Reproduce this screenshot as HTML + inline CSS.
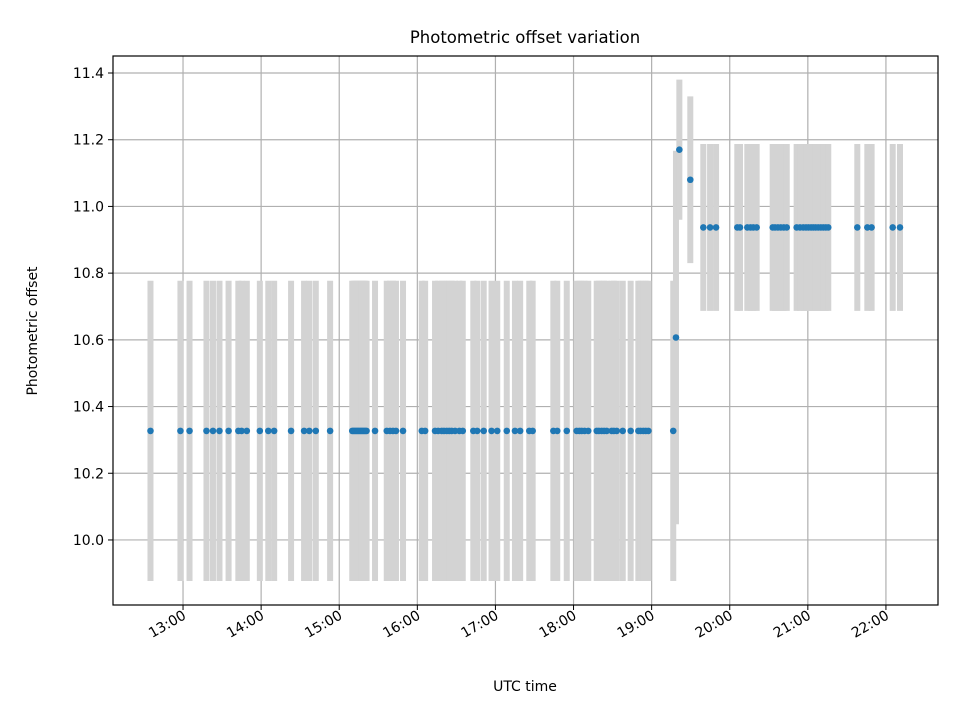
<!DOCTYPE html>
<html><head><meta charset="utf-8"><style>
html,body{margin:0;padding:0;background:#fff;}
svg text{font-family:"DejaVu Sans","Liberation Sans",sans-serif;fill:#000;}
</style></head><body>
<svg id="chart" width="960" height="720" xmlns="http://www.w3.org/2000/svg">
<rect width="960" height="720" fill="#fff"/>
<text x="525" y="43" font-size="16.5" text-anchor="middle">Photometric offset variation</text>
<text x="525" y="691" font-size="14" text-anchor="middle">UTC time</text>
<text x="37" y="331" font-size="14" text-anchor="middle" transform="rotate(-90 37 331)">Photometric offset</text>
<g id="grid"></g><g id="bars"></g><g id="pts"></g><g id="axes"></g>
</svg>
<script>
// times in minutes since 12:00 UTC
const lowTimes=[35,58,65,78,83,88,95,102.5,105,109,119,125.5,130,143,153,157,162,173,190,191,192,193,194,195,196,197,198,199,200,201,207.5,216.5,219,221.3,223.6,229,243.4,246,253.6,256,258.7,260.5,262.6,264.5,266.4,269,272.3,274.9,283,286,291,297,301.4,308.7,315,319,326,328.6,344.5,347.5,354.8,362.4,364.5,366.3,368.5,371.3,377.8,379.5,381.6,383.5,385.5,389.3,391,393.2,397.8,403.9,409.8,411.5,413.6,415.5,417.5,436.6];
const lowValue=10.327;
const lowError=0.45;
const specialTimes=[438.7,441.3,449.7];
const specialValues=[10.607,11.17,11.08];
const specialErrors=[0.56,0.21,0.25];
const highTimes=[459.7,464.9,469.5,485.8,487.9,493.5,496,498.1,500.7,513,514.8,517,519.2,521.5,523.8,531.4,534,536.5,538.6,540.5,542.5,544.2,546,548,550,551.9,553.8,555.7,578,585.7,589,605.2,610.8];
const highValue=10.937;
const highError=0.25;
const yTicks=[10.0,10.2,10.4,10.6,10.8,11.0,11.2,11.4];
const xTicks=[60,120,180,240,300,360,420,480,540,600];
const xTickLabels=["13:00","14:00","15:00","16:00","17:00","18:00","19:00","20:00","21:00","22:00"];
const L=113,R=938,T=56,B=605;
const xMin=6.2,xMax=640,yMin=9.805,yMax=11.451;
const X=t=>L+(t-xMin)/(xMax-xMin)*(R-L);
const Y=v=>B-(v-yMin)/(yMax-yMin)*(B-T);
const NS="http://www.w3.org/2000/svg";
function mk(tag,parent,attrs){const e=document.createElementNS(NS,tag);for(const k in attrs)e.setAttribute(k,attrs[k]);document.getElementById(parent).appendChild(e);return e;}
yTicks.forEach((v,i)=>{
 const g=mk('line','grid',{x1:L,x2:R,y1:Y(v),y2:Y(v),stroke:'#b0b0b0','stroke-width':1.2});
 
 
 const tk=mk('line','axes',{x1:L-5,x2:L,y1:Y(v),y2:Y(v),stroke:'#000','stroke-width':1});
 
 
 const tx=mk('text','axes',{x:L-9,y:Y(v)+5,'font-size':14,'text-anchor':'end'});
 tx.textContent=v.toFixed(1);
 
 
});
xTicks.forEach((t,i)=>{
 const g=mk('line','grid',{x1:X(t),x2:X(t),y1:T,y2:B,stroke:'#b0b0b0','stroke-width':1.2});
 
 
 const tk=mk('line','axes',{x1:X(t),x2:X(t),y1:B,y2:B+5,stroke:'#000','stroke-width':1});
 
 
 const x=X(t)+4,y=B+13;
 const tx=mk('text','axes',{x:x,y:y,'font-size':14,'text-anchor':'end',transform:`rotate(-30 ${x} ${y})`});
 tx.textContent=xTickLabels[i];
 
 
});
function drawPoint(t,v,e){
 const b=mk('line','bars',{x1:X(t),x2:X(t),y1:Y(v-e),y2:Y(v+e),stroke:'#d3d3d3','stroke-width':6});
 
 
 const p=mk('circle','pts',{cx:X(t),cy:Y(v),r:3.3,fill:'#1f77b4'});
 
 
}
lowTimes.forEach(t=>drawPoint(t,lowValue,lowError));
specialTimes.forEach((t,i)=>drawPoint(t,specialValues[i],specialErrors[i]));
highTimes.forEach(t=>drawPoint(t,highValue,highError));
const fr=mk('rect','axes',{x:L,y:T,width:R-L,height:B-T,fill:'none',stroke:'#000','stroke-width':1.2});


</script>
</body></html>
